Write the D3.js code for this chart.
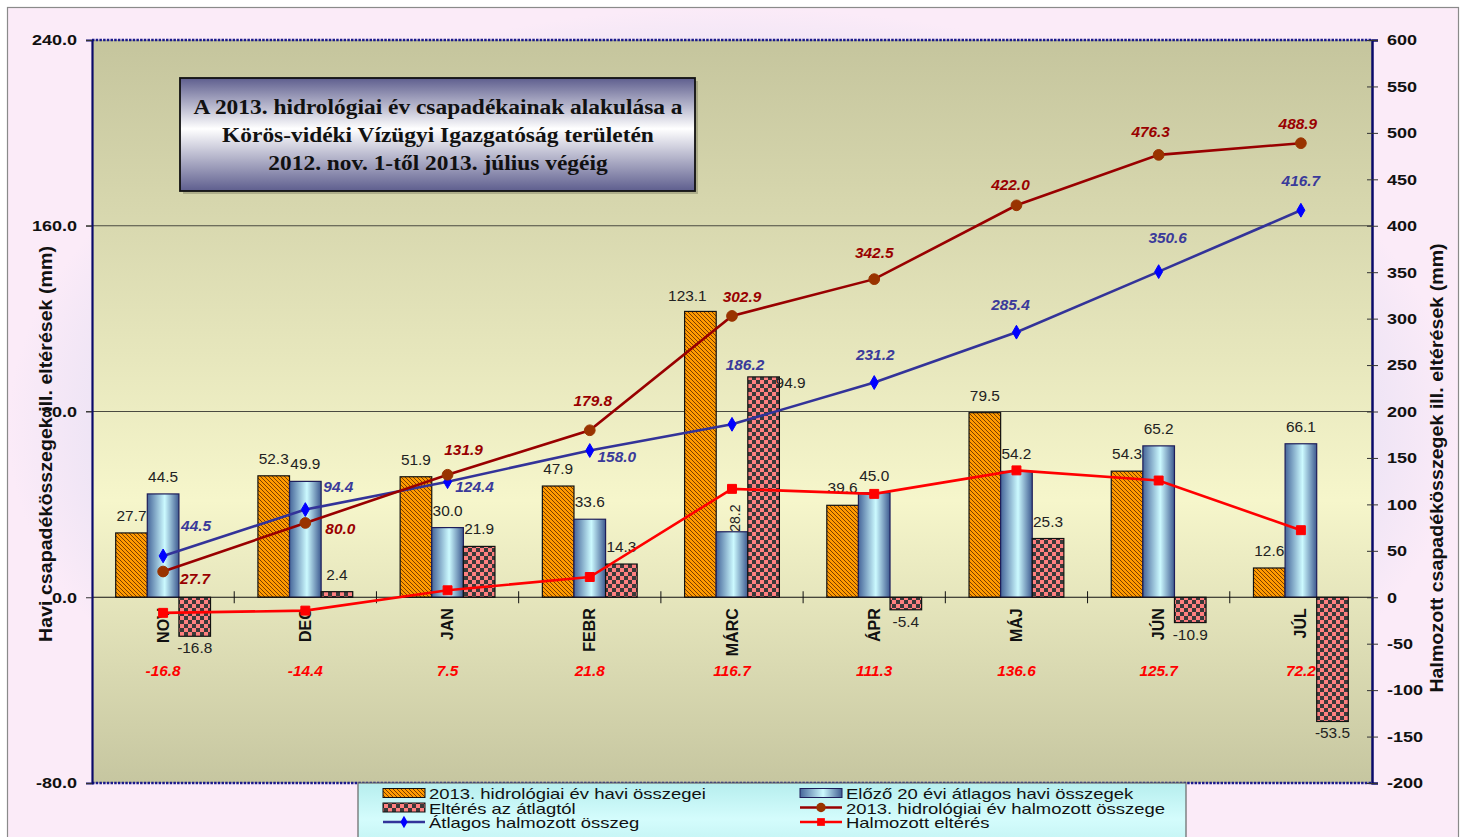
<!DOCTYPE html>
<html><head><meta charset="utf-8">
<script src="https://cdn.jsdelivr.net/npm/d3@7"></script>
<style>body{margin:0;background:#fff;} svg{display:block;}</style>
</head><body>
<svg id="c" width="1467" height="837"></svg>
<script>
// ---------------- DATA ----------------
const months = ["NOV","DEC","JAN","FEBR","MÁRC","ÁPR","MÁJ","JÚN","JÚL"];
const monthly2013 = [27.7,52.3,51.9,47.9,123.1,39.6,79.5,54.3,12.6];
const avg20 = [44.5,49.9,30.0,33.6,28.2,45.0,54.2,65.2,66.1];
const deviation = [-16.8,2.4,21.9,14.3,94.9,-5.4,25.3,-10.9,-53.5];
const cum2013 = [27.7,80.0,131.9,179.8,302.9,342.5,422.0,476.3,488.9];
const cumAvg = [44.5,94.4,124.4,158.0,186.2,231.2,285.4,350.6,416.7];
const cumDev = [-16.8,-14.4,7.5,21.8,116.7,111.3,136.6,125.7,72.2];
const leftTicks = [-80,0,80,160,240];
const rightTicks = [-200,-150,-100,-50,0,50,100,150,200,250,300,350,400,450,500,550,600];
const titleLines = ["A 2013. hidrológiai év csapadékainak alakulása a","Körös-vidéki Vízügyi Igazgatóság területén","2012. nov. 1-től 2013. július végéig"];
const leftTitle = "Havi csapadékösszegek ill. eltérések (mm)";
const rightTitle = "Halmozott csapadékösszegek ill. eltérések (mm)";
const legendNames = ["2013. hidrológiai év havi összegei","Előző 20 évi átlagos havi összegek","Eltérés az átlagtól","2013. hidrológiai év halmozott összege","Átlagos halmozott összeg","Halmozott eltérés"];

// ---------------- LABEL PLACEMENT (style) ----------------
const cumLabelOffset = [[32,7],[35,6],[16,-25],[3,-29],[10,-19],[0,-26],[-6,-20],[-8,-23],[-3,-19]];
const avgLabelOffset = [[33,-30],[33,-23],[27,5],[27,6],[13,-59],[1,-28],[-6,-27],[9,-34],[0,-29]];

// ---------------- LAYOUT ----------------
const L=92, R=1372, T=40, B=783;
const svg=d3.select("#c");
const SANS="'Liberation Sans', Arial, sans-serif";
const SERIF="'Liberation Serif', 'Times New Roman', serif";
const loc=d3.formatLocale({decimal:".",thousands:"",grouping:[3],currency:["",""],minus:"-"});
const f1=loc.format(".1f"), f0=loc.format("d");
function stretch(sel,k){sel.each(function(){const l=this.getComputedTextLength();d3.select(this).attr("textLength",l*k).attr("lengthAdjust","spacingAndGlyphs");});}

const defs=svg.append("defs");
const rg=defs.append("radialGradient").attr("id","bg").attr("cx","50%").attr("cy","50%").attr("r","50%");
rg.append("stop").attr("offset","0").attr("stop-color","#dedaf2");
rg.append("stop").attr("offset","0.8").attr("stop-color","#e6e0f3");
rg.append("stop").attr("offset","1").attr("stop-color","#fbebf8");
const pg=defs.append("linearGradient").attr("id","pbg").attr("x1",0).attr("y1",0).attr("x2",0).attr("y2",1);
pg.append("stop").attr("offset","0").attr("stop-color","#c5c59d");
pg.append("stop").attr("offset","0.62").attr("stop-color","#f6f6cb");
pg.append("stop").attr("offset","1").attr("stop-color","#c6c6a0");
const tg=defs.append("linearGradient").attr("id","tbg").attr("x1",0).attr("y1",0).attr("x2",0).attr("y2",1);
tg.append("stop").attr("offset","0").attr("stop-color","#5e5e8e");
tg.append("stop").attr("offset","0.45").attr("stop-color","#ffffff");
tg.append("stop").attr("offset","1").attr("stop-color","#5e5e8e");
const bg=defs.append("linearGradient").attr("id","blue").attr("x1",0).attr("y1",0).attr("x2",1).attr("y2",0);
bg.append("stop").attr("offset","0").attr("stop-color","#46669a");
bg.append("stop").attr("offset","0.55").attr("stop-color","#ccfaff");
bg.append("stop").attr("offset","1").attr("stop-color","#3e5a90");
const lg=defs.append("linearGradient").attr("id","lbg").attr("x1",0).attr("y1",0).attr("x2",0).attr("y2",1);
lg.append("stop").attr("offset","0").attr("stop-color","#b6eeee");
lg.append("stop").attr("offset","0.6").attr("stop-color","#d4fcfc");
lg.append("stop").attr("offset","1").attr("stop-color","#c4f4f4");
const hp=defs.append("pattern").attr("id","hatch").attr("patternUnits","userSpaceOnUse").attr("width",4).attr("height",4);
hp.append("rect").attr("width",4).attr("height",4).attr("fill","#ff9a00");
hp.append("path").attr("d","M-1,-1L5,5M-1,3L1,5M3,-1L5,1").attr("stroke","#7a3e00").attr("stroke-width",1);
const cp=defs.append("pattern").attr("id","check").attr("patternUnits","userSpaceOnUse").attr("width",8).attr("height",8);
cp.append("rect").attr("width",8).attr("height",8).attr("fill","#ff8080");
cp.append("rect").attr("width",4).attr("height",4).attr("fill","#3a3a3a");
cp.append("rect").attr("x",4).attr("y",4).attr("width",4).attr("height",4).attr("fill","#3a3a3a");

svg.append("rect").attr("x",7.5).attr("y",7.5).attr("width",1451).attr("height",840).attr("fill","url(#bg)").attr("stroke","#8a8a8a").attr("stroke-width",1.2);
svg.append("rect").attr("x",L).attr("y",T).attr("width",R-L).attr("height",B-T).attr("fill","url(#pbg)");

const x=d3.scaleBand().domain(months).range([L,R]).padding(0);
const xs=d3.scaleBand().domain(["a","b","c"]).range([0,x.bandwidth()]).paddingInner(0).paddingOuter(0.75);
const yL=d3.scaleLinear().domain([-80,240]).range([B,T]);
const yR=d3.scaleLinear().domain([-200,600]).range([B,T]);

svg.append("g").selectAll("line").data([80,160]).join("line")
 .attr("x1",L-6).attr("x2",R).attr("y1",d=>yL(d)).attr("y2",d=>yL(d)).attr("stroke","#4a4a40").attr("stroke-width",1);
[T,B].forEach(yy=>{
 svg.append("line").attr("x1",L).attr("x2",R).attr("y1",yy).attr("y2",yy).attr("stroke","#1a1a8a").attr("stroke-width",2.5).attr("stroke-dasharray","2.5,1.2");
});

const series=[{v:monthly2013,k:"a",fill:"url(#hatch)",stroke:"#111"},{v:avg20,k:"b",fill:"url(#blue)",stroke:"#1e1e5a"},{v:deviation,k:"c",fill:"url(#check)",stroke:"#111"}];
const gb=svg.append("g");
series.forEach(s=>{
 gb.selectAll(null).data(s.v).join("rect")
  .attr("x",(d,i)=>x(months[i])+xs(s.k)).attr("width",xs.bandwidth())
  .attr("y",d=>yL(Math.max(0,d))).attr("height",d=>Math.abs(yL(d)-yL(0)))
  .attr("fill",s.fill).attr("stroke",s.stroke).attr("stroke-width",1.2);
});

svg.append("line").attr("x1",L).attr("x2",R).attr("y1",yL(0)).attr("y2",yL(0)).attr("stroke","#111").attr("stroke-width",1.2);
svg.append("g").selectAll("line").data(months.slice(1)).join("line")
 .attr("x1",d=>x(d)).attr("x2",d=>x(d)).attr("y1",yL(0)-6).attr("y2",yL(0)+6).attr("stroke","#111");

const gl=svg.append("g").attr("transform",`translate(${L},0)`).call(d3.axisLeft(yL).tickValues(leftTicks).tickFormat(f1).tickSize(6).tickPadding(9));
gl.select(".domain").attr("stroke","#0a0a6a").attr("stroke-width",2.2);
gl.selectAll(".tick line").attr("stroke","#333");
gl.selectAll("text").attr("font-family",SANS).attr("font-weight","bold").attr("font-size",15).attr("fill","#111").call(stretch,1.2);
const gr=svg.append("g").attr("transform",`translate(${R},0)`).call(d3.axisRight(yR).tickValues(rightTicks).tickFormat(f0).tickSize(6).tickPadding(9));
gr.select(".domain").attr("stroke","#0a0a6a").attr("stroke-width",2.5);
gr.selectAll(".tick line").attr("stroke","#333").attr("x1",-5);
gr.selectAll("text").attr("font-family",SANS).attr("font-weight","bold").attr("font-size",15).attr("fill","#111").call(stretch,1.2);

svg.append("text").attr("transform","translate(46,444) rotate(-90)").attr("text-anchor","middle").attr("dominant-baseline","central")
 .attr("font-family",SANS).attr("font-weight","bold").attr("font-size",18).attr("fill","#111").text(leftTitle).call(stretch,1.09);
svg.append("text").attr("transform","translate(1437,468) rotate(-90)").attr("text-anchor","middle").attr("dominant-baseline","central")
 .attr("font-family",SANS).attr("font-weight","bold").attr("font-size",18).attr("fill","#111").text(rightTitle).call(stretch,1.09);

svg.append("g").selectAll("text").data(months).join("text")
 .attr("transform",d=>`translate(${x(d)+x.bandwidth()/2},${yL(0)+11}) rotate(-90)`)
 .attr("text-anchor","end").attr("dominant-baseline","central")
 .attr("font-family",SANS).attr("font-weight","bold").attr("font-size",16).attr("fill","#111").text(d=>d);

const bl=svg.append("g").attr("font-family",SANS).attr("font-size",14).attr("fill","#222");
series.forEach(s=>{
 s.v.forEach((d,i)=>{
  const cx=x(months[i])+xs(s.k)+xs.bandwidth()/2;
  const t=bl.append("text").text(f1(d));
  if(s.k==="b" && i===4){
   t.attr("transform",`translate(${cx+3},${yL(d)}) rotate(-90)`).attr("text-anchor","start").attr("dominant-baseline","central");
  } else if(s.k==="c" && i===4){
   t.attr("x",cx+27).attr("y",yL(d)+6).attr("text-anchor","middle").attr("dominant-baseline","central");
  } else if(s.k==="a" && i===4){
   t.attr("x",cx-13).attr("y",yL(d)-15).attr("text-anchor","middle").attr("dominant-baseline","central");
  } else if(d>=0){
   t.attr("x",cx).attr("y",yL(d)-17).attr("text-anchor","middle").attr("dominant-baseline","central");
  } else {
   t.attr("x",cx).attr("y",yL(d)+12).attr("text-anchor","middle").attr("dominant-baseline","central");
  }
  if(!(s.k==="b" && i===4)) t.call(stretch,1.1);
 });
});

const cxm=i=>x(months[i])+x.bandwidth()/2;
const line=d3.line().x((d,i)=>cxm(i)).y(d=>yR(d));
function drawLine(vals,color,markerFill,shape,size){
 svg.append("path").datum(vals).attr("d",line).attr("fill","none").attr("stroke",color).attr("stroke-width",2.6);
 svg.append("g").selectAll("path").data(vals).join("path")
  .attr("transform",(d,i)=>`translate(${cxm(i)},${yR(d)})`)
  .attr("d",d3.symbol().type(shape).size(size)).attr("fill",markerFill).attr("stroke",markerFill);
}
drawLine(cumDev,"#ff0000","#ff0000",d3.symbolSquare,80);
drawLine(cumAvg,"#333399","#0000ff",d3.symbolDiamond,55);
drawLine(cum2013,"#990000","#993300",d3.symbolCircle,90);

const ll=svg.append("g").attr("font-family",SANS).attr("font-size",14).attr("font-weight","bold").attr("font-style","italic").attr("text-anchor","middle").attr("dominant-baseline","central");
cum2013.forEach((d,i)=>{ll.append("text").attr("x",cxm(i)+cumLabelOffset[i][0]).attr("y",yR(d)+cumLabelOffset[i][1]).attr("fill","#990000").text(f1(d)).call(stretch,1.1);});
cumAvg.forEach((d,i)=>{ll.append("text").attr("x",cxm(i)+avgLabelOffset[i][0]).attr("y",yR(d)+avgLabelOffset[i][1]).attr("fill","#3a3a9a").text(f1(d)).call(stretch,1.1);});
cumDev.forEach((d,i)=>{ll.append("text").attr("x",cxm(i)).attr("y",yL(0)+74).attr("fill","#ff0000").text(f1(d)).call(stretch,1.1);});

svg.append("rect").attr("x",183).attr("y",81).attr("width",515).attr("height",113).attr("fill","rgba(60,60,40,0.25)");
svg.append("rect").attr("x",180).attr("y",78).attr("width",515).attr("height",113).attr("fill","url(#tbg)").attr("stroke","#111").attr("stroke-width",1.8);
svg.append("g").selectAll("text").data(titleLines).join("text")
 .attr("x",438).attr("y",(d,i)=>114+i*28).attr("text-anchor","middle")
 .attr("font-family",SERIF).attr("font-weight","bold").attr("font-size",20).attr("fill","#111").text(d=>d).call(stretch,1.17);

const lx=358, ly=783, lw=828;
svg.append("rect").attr("x",lx).attr("y",ly).attr("width",lw).attr("height",60).attr("fill","url(#lbg)").attr("stroke","#666").attr("stroke-width",1.2);
const cols=[383,800], rows=[793,807.5,822];
const g=svg.append("g");
const items=[
 {c:0,r:0,t:"rect",f:"url(#hatch)",s:"#111"},
 {c:1,r:0,t:"rect",f:"url(#blue)",s:"#1e1e5a"},
 {c:0,r:1,t:"rect",f:"url(#check)",s:"#111"},
 {c:1,r:1,t:"line",col:"#990000",mf:"#993300",sh:d3.symbolCircle,sz:70},
 {c:0,r:2,t:"line",col:"#333399",mf:"#0000ff",sh:d3.symbolDiamond,sz:45},
 {c:1,r:2,t:"line",col:"#ff0000",mf:"#ff0000",sh:d3.symbolSquare,sz:60}
];
items.forEach((it,k)=>{
 const sx=cols[it.c], sy=rows[it.r];
 if(it.t==="rect"){
  g.append("rect").attr("x",sx).attr("y",sy-4.5).attr("width",42).attr("height",9).attr("fill",it.f).attr("stroke",it.s);
 } else {
  g.append("line").attr("x1",sx).attr("x2",sx+42).attr("y1",sy).attr("y2",sy).attr("stroke",it.col).attr("stroke-width",2.6);
  g.append("path").attr("transform",`translate(${sx+21},${sy})`).attr("d",d3.symbol().type(it.sh).size(it.sz)).attr("fill",it.mf);
 }
 g.append("text").attr("x",sx+46).attr("y",sy+0.5).attr("dominant-baseline","central")
  .attr("font-family",SANS).attr("font-size",15).attr("fill","#111").text(legendNames[k]).call(stretch,1.23);
});
</script>
</body></html>
